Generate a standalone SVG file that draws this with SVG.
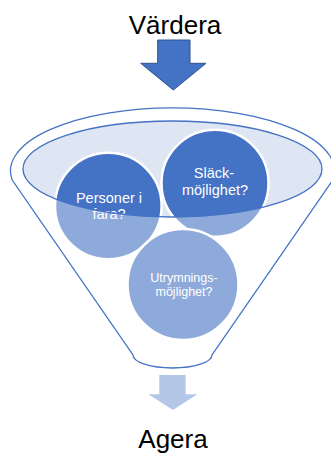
<svg xmlns="http://www.w3.org/2000/svg" width="331" height="453" viewBox="0 0 331 453">
<style>
.title{font-family:"Liberation Sans",Arial,sans-serif;font-size:26px;fill:#000;text-anchor:middle}
.lbl{font-family:"Liberation Sans",Arial,sans-serif;font-size:14.5px;fill:#fff;text-anchor:middle}
.lbls{font-family:"Liberation Sans",Arial,sans-serif;font-size:12.5px;fill:#fff;text-anchor:middle}
.bubble{fill:#4472c4;stroke:#fff;stroke-width:2.5}
.outline{fill:none;stroke:#4472c4;stroke-width:1.3}
</style>
<defs>
<mask id="outside" maskUnits="userSpaceOnUse" x="0" y="0" width="331" height="453">
<rect x="0" y="0" width="331" height="453" fill="#fff"/>
<ellipse cx="172.5" cy="169" rx="149.5" ry="48" fill="#000"/>
</mask>
</defs>
<rect width="331" height="453" fill="#fff"/>
<g id="title-vardera"><text class="title" x="175" y="34">Värdera</text></g>
<g id="funnel-top">
<ellipse cx="172.5" cy="169" rx="149.5" ry="48" fill="#dfe6f3"/>
</g>
<g id="circle-personer">
<circle class="bubble" cx="108.3" cy="206" r="53.3"/>
<text class="lbl" x="109" y="203.3">Personer i</text>
<text class="lbl" x="109" y="219.3">fara?</text>
</g>
<g id="circle-slack">
<circle class="bubble" cx="215" cy="183.3" r="53.5"/>
<text class="lbl" x="214" y="177.7">Släck-</text>
<text class="lbl" x="215" y="195">möjlighet?</text>
</g>
<g id="circle-utrymning">
<circle class="bubble" cx="183" cy="284.5" r="55.5"/>
<text class="lbls" x="184" y="281.7">Utrymnings-</text>
<text class="lbls" x="184" y="296">möjlighet?</text>
</g>
<g id="funnel">
<rect x="0" y="100" width="331" height="280" fill="#fff" fill-opacity="0.4" mask="url(#outside)"/>
<path class="outline" d="M12.2 180 A162 63 0 1 1 332.8 180 L212 355 A39.5 13 0 0 1 133 355 Z"/>
<ellipse class="outline" cx="172.5" cy="169" rx="149.5" ry="48"/>
</g>
<g id="connectors">
<path d="M157.7 40 H190 V63.3 H206 L173.3 90 L140.7 63.3 H157.7 Z" fill="#4472c4" stroke="#2f528f" stroke-width="1"/>
<path d="M159.3 375 H185.7 V394.3 H197.3 L173 410 L148.3 394.3 H159.3 Z" fill="#b4c7e7"/>
</g>
<g id="label-agera"><text class="title" x="173" y="448">Agera</text></g>
</svg>
